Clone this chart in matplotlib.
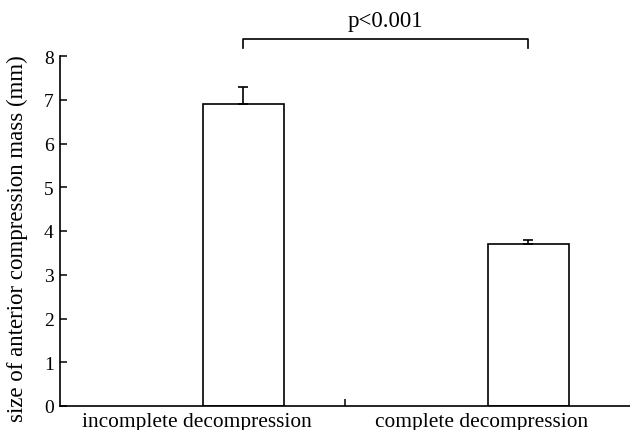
import numpy as np
import matplotlib
matplotlib.use('Agg')
import matplotlib.pyplot as plt

plt.rcParams['font.family'] = ['Liberation Serif', 'DejaVu Serif']

categories = ['incomplete decompression', 'complete decompression']
means = [6.9, 3.7]
errors = [0.4, 0.1]
p_label = 'p<0.001'

fig = plt.figure(figsize=(6.3, 4.31), dpi=100)
ax = fig.add_axes([60 / 630, 24 / 431, 570 / 630, 350 / 431])

cat_pos = np.arange(len(categories)) + 0.5
bar_w = 0.285

# bars start at the category centre and sit to its right
ax.bar(cat_pos, means, width=bar_w, align='edge', color='white',
       edgecolor='black', linewidth=1.2, zorder=2)
ax.errorbar(cat_pos + bar_w / 2, means, yerr=[np.zeros(2), errors], fmt='none',
            ecolor='black', elinewidth=1.2, capsize=3.6, capthick=1.2, zorder=3)

ax.set_xlim(0, 2)
ax.set_ylim(0, 8)
ax.set_yticks(range(0, 9))
ax.set_xticks([1])
ax.set_xticklabels([''])
ax.tick_params(axis='both', direction='in', length=5, width=1.1,
               labelsize=14, pad=4.5)
for i, c in enumerate(categories):
    ax.text(cat_pos[i] - 0.02, -0.45, c, ha='center', va='baseline', fontsize=15.4)

for s in ['top', 'right']:
    ax.spines[s].set_visible(False)
for s in ['left', 'bottom']:
    ax.spines[s].set_linewidth(1.2)

ax.set_ylabel('size of anterior compression mass (mm)', fontsize=16.5)
ax.yaxis.set_label_coords(-0.056, 0.48)

# significance bracket
x1 = cat_pos[0] + bar_w / 2
x2 = cat_pos[1] + bar_w / 2
ax.plot([x1, x1, x2, x2], [8.18, 8.39, 8.39, 8.18], color='black', lw=1.2,
        clip_on=False)
ax.text((x1 + x2) / 2, 8.58, p_label, ha='center', va='bottom', fontsize=16.5)

fig.savefig('out.png', dpi=100)
